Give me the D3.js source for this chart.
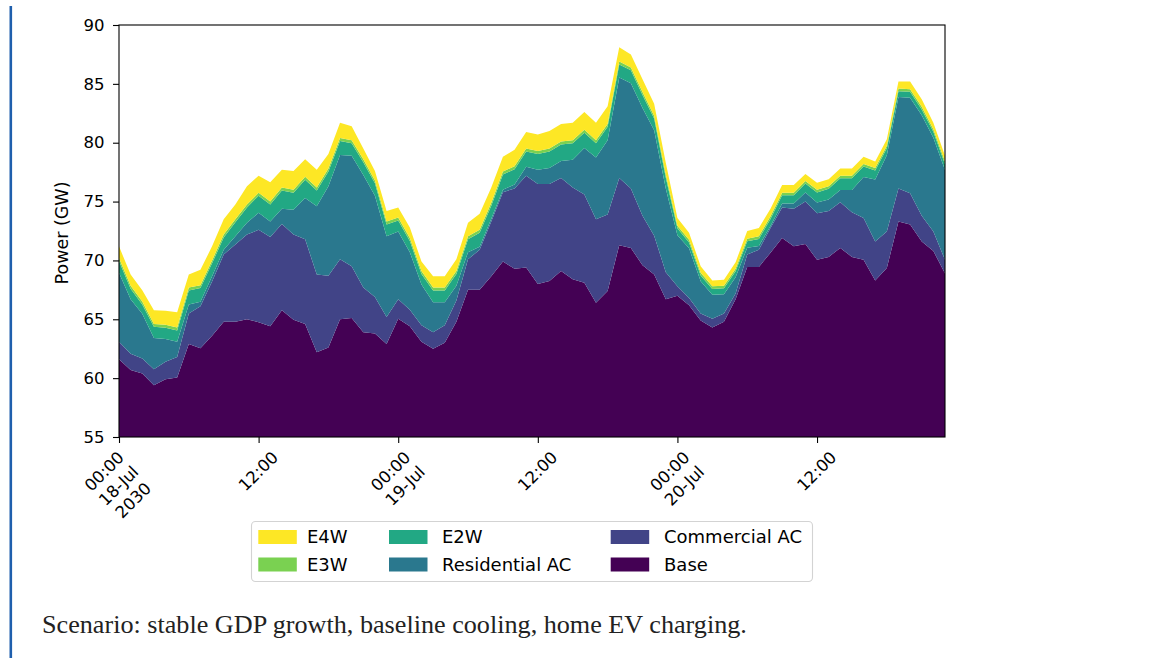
<!DOCTYPE html>
<html>
<head>
<meta charset="utf-8">
<script src="https://cdn.jsdelivr.net/npm/d3@7"></script>
<style>
html,body{margin:0;padding:0;background:#fff;overflow:hidden}
</style>
</head>
<body>
<svg id="chart" width="1156" height="658"></svg>
<script>
// ---------------- data ----------------
const startTime = Date.UTC(2030, 6, 18, 0, 0);   // 18-Jul-2030 00:00, hourly samples
const seriesNames = ["Base", "Commercial AC", "Residential AC", "E2W", "E3W", "E4W"];
const seriesColors = ["#440154", "#414487", "#2a788e", "#22a884", "#7ad151", "#fde725"];

const base = [61.6, 60.7, 60.4, 59.4, 59.9, 60.05, 62.9, 62.55, 63.6, 64.8, 64.8, 65.0, 64.75, 64.4, 65.76, 64.96, 64.6, 62.2, 62.6, 65.0, 65.1, 63.9, 63.8, 62.9,
  65.05, 64.4, 63.1, 62.5, 63.0, 64.8, 67.5, 67.5, 68.65, 69.9, 69.3, 69.4, 68.0, 68.25, 69.1, 68.4, 68.1, 66.4, 67.4, 71.3, 71.05, 69.6, 68.8, 66.7,
  67.0, 66.2, 64.9, 64.3, 64.8, 66.7, 69.45, 69.45, 70.65, 71.9, 71.2, 71.4, 70.05, 70.3, 71.05, 70.3, 70.05, 68.3, 69.35, 73.3, 73.05, 71.6, 70.8, 68.9];

const commercialAC = [1.5, 1.37, 1.27, 1.36, 1.5, 1.75, 2.6, 3.55, 4.6, 5.7, 6.55, 7.2, 7.85, 7.6, 7.34, 7.24, 7.2, 6.6, 6.1, 5.1, 4.4, 3.8, 3.1, 2.3,
  1.65, 1.4, 1.4, 1.4, 1.5, 1.8, 2.6, 3.4, 4.65, 5.9, 6.8, 7.8, 8.5, 8.25, 7.9, 7.8, 7.5, 7.1, 6.5, 5.7, 5.05, 4.2, 3.3, 2.3,
  0.8, 0.6, 0.6, 0.75, 0.7, 0.5, 1.05, 1.45, 2.1, 2.6, 3.2, 3.6, 3.95, 3.9, 3.9, 3.8, 3.55, 3.3, 3.1, 2.8, 2.65, 2.2, 1.65, 1.15];

const residentialAC = [5.85, 4.63, 3.79, 2.65, 1.93, 1.3, 0.75, 0.4, 0.45, 0.4, 0.7, 1.0, 1.45, 1.3, 1.3, 2.1, 3.5, 5.8, 7.6, 8.85, 9.4, 9.55, 8.6, 6.85,
  5.75, 4.9, 3.45, 2.55, 1.95, 1.25, 0.6, 0.26, 0.25, 0.2, 0.35, 0.75, 1.2, 1.35, 1.45, 2.35, 3.95, 5.25, 6.3, 8.55, 8.95, 9.15, 8.95, 7.1,
  4.33, 4.23, 2.73, 2.03, 1.63, 1.38, 0.58, 0.33, 0.18, 0.33, 0.43, 0.78, 0.93, 0.98, 1.03, 1.88, 3.48, 5.28, 6.48, 7.78, 8.13, 8.53, 7.98, 7.63];

const e2w = [1.0, 0.9, 0.8, 0.95, 0.95, 0.95, 1.2, 1.15, 1.1, 1.05, 1.2, 1.3, 1.45, 1.45, 1.55, 1.45, 1.55, 1.35, 1.25, 1.2, 1.05, 1.1, 1.05, 1.0,
  0.95, 0.95, 0.9, 1.0, 1.0, 1.0, 1.1, 1.2, 1.1, 1.3, 1.3, 1.3, 1.35, 1.4, 1.4, 1.4, 1.3, 1.2, 1.15, 1.1, 1.1, 1.1, 1.0, 0.95,
  0.6, 0.5, 0.5, 0.5, 0.5, 0.5, 0.55, 0.6, 0.6, 0.7, 0.7, 0.75, 0.85, 0.9, 1.0, 1.0, 0.9, 0.75, 0.6, 0.5, 0.5, 0.5, 0.5, 0.5];

const e3w = [0.25, 0.25, 0.25, 0.25, 0.25, 0.25, 0.25, 0.25, 0.25, 0.25, 0.25, 0.25, 0.25, 0.25, 0.25, 0.25, 0.25, 0.25, 0.25, 0.25, 0.25, 0.25, 0.25, 0.25,
  0.25, 0.25, 0.25, 0.25, 0.25, 0.25, 0.25, 0.25, 0.25, 0.25, 0.25, 0.25, 0.25, 0.25, 0.25, 0.25, 0.25, 0.25, 0.25, 0.25, 0.25, 0.25, 0.25, 0.25,
  0.22, 0.22, 0.22, 0.22, 0.22, 0.22, 0.22, 0.22, 0.22, 0.22, 0.22, 0.22, 0.22, 0.22, 0.22, 0.22, 0.22, 0.22, 0.22, 0.22, 0.22, 0.22, 0.22, 0.22];

const e4w = [1.0, 0.95, 0.95, 1.15, 1.2, 1.3, 1.1, 1.3, 1.2, 1.3, 1.25, 1.55, 1.45, 1.65, 1.5, 1.6, 1.5, 1.5, 1.25, 1.3, 1.2, 0.9, 0.8, 0.9,
  0.85, 0.9, 0.8, 0.95, 0.95, 1.0, 1.15, 1.35, 1.3, 1.25, 1.4, 1.4, 1.4, 1.5, 1.5, 1.5, 1.5, 1.5, 1.5, 1.2, 1.1, 1.1, 1.0, 1.0,
  0.65, 0.6, 0.55, 0.5, 0.5, 0.55, 0.65, 0.7, 0.65, 0.65, 0.65, 0.6, 0.6, 0.6, 0.6, 0.6, 0.6, 0.55, 0.55, 0.6, 0.65, 0.65, 0.55, 0.5];

const yTicks = [55, 60, 65, 70, 75, 80, 85, 90];
const xTickHours = [0, 12, 24, 36, 48, 60];
const xTickLabels = [["00:00", "18-Jul", "2030"], ["12:00"], ["00:00", "19-Jul"], ["12:00"], ["00:00", "20-Jul"], ["12:00"]];
const legendOrder = ["E4W", "E3W", "E2W", "Residential AC", "Commercial AC", "Base"];
const yLabel = "Power (GW)";
const caption = "Scenario: stable GDP growth, baseline cooling, home EV charging.";

// ---------------- build ----------------
const seriesValues = [base, commercialAC, residentialAC, e2w, e3w, e4w];
const timeAt = h => new Date(startTime + h * 3600e3);
const rows = base.map((_, i) => {
  const r = { t: timeAt(i) };
  seriesNames.forEach((n, k) => r[n] = seriesValues[k][i]);
  return r;
});

const svg = d3.select("#chart");
const L = 119, R = 945, T = 25, B = 437;
const FONT = "'DejaVu Sans', sans-serif";

// page accent bar
svg.append("rect").attr("x", 9.5).attr("y", 6).attr("width", 2.6).attr("height", 660).attr("fill", "#1f5fad");

const x = d3.scaleUtc().domain([rows[0].t, rows[rows.length - 1].t]).range([L, R]);
const y = d3.scaleLinear().domain([55, 90]).range([B, T]);

const stacked = d3.stack().keys(seriesNames)(rows);

svg.append("clipPath").attr("id", "plotclip")
  .append("rect").attr("x", L).attr("y", T).attr("width", R - L).attr("height", B - T);

const area = d3.area()
  .x(d => x(d.data.t))
  .y0(d => y(Math.max(d[0], 50)))
  .y1(d => y(d[1]));

svg.append("g").attr("clip-path", "url(#plotclip)")
  .selectAll("path").data(stacked).join("path")
  .attr("d", area)
  .attr("fill", (d, i) => seriesColors[i])
  .attr("stroke", "none");

// y axis
const yAxis = svg.append("g").attr("transform", `translate(${L},0)`)
  .call(d3.axisLeft(y).tickValues(yTicks).tickSize(6).tickPadding(8.5).tickFormat(d3.format("d")));
yAxis.select(".domain").remove();
yAxis.selectAll("line").attr("stroke", "#000").attr("stroke-width", 1.1);
yAxis.selectAll("text").attr("font-family", FONT).attr("font-size", 16.5).attr("fill", "#000");

// x axis ticks
const xAxis = svg.append("g").attr("transform", `translate(0,${B})`)
  .call(d3.axisBottom(x).tickValues(xTickHours.map(timeAt)).tickSize(6).tickFormat(""));
xAxis.select(".domain").remove();
xAxis.selectAll("line").attr("stroke", "#000").attr("stroke-width", 1.1);

// x tick labels (rotated 45°, centered, multi-line)
const fs = 16.5, lh = 20.5, asc = 15.5, topPad = B + 10.5;
const c45 = Math.SQRT1_2;
xTickHours.forEach((h, i) => {
  const lines = xTickLabels[i];
  const tx = x(timeAt(h));
  const g = svg.append("g");
  const t = g.append("text").attr("text-anchor", "middle")
    .attr("font-family", FONT).attr("font-size", fs).attr("fill", "#000");
  const spans = lines.map((ln, j) => t.append("tspan").attr("x", 0).attr("y", asc + j * lh).text(ln));
  const W = d3.max(spans, s => s.node().getComputedTextLength());
  const H = lines.length * lh;
  g.attr("transform", `translate(${tx - c45 * H / 2},${topPad + c45 * W / 2}) rotate(-45)`);
});

// frame
svg.append("rect").attr("x", L).attr("y", T).attr("width", R - L).attr("height", B - T)
  .attr("fill", "none").attr("stroke", "#000").attr("stroke-width", 1.1);

// y label
svg.append("text")
  .attr("transform", `translate(68,${(T + B) / 2 + 2}) rotate(-90)`)
  .attr("text-anchor", "middle")
  .attr("font-family", FONT).attr("font-size", 17.5).attr("fill", "#000")
  .text(yLabel);

// legend
const lg = svg.append("g");
lg.append("rect").attr("x", 251.5).attr("y", 521.5).attr("width", 561).attr("height", 60)
  .attr("rx", 4).attr("fill", "#fff").attr("stroke", "#d3d3d3").attr("stroke-width", 1.1);
const colPatchX = [258.3, 389, 610.7];
const colTextX = [307, 442, 664];
const rowY = [530, 557.5];
legendOrder.forEach((name, k) => {
  const col = Math.floor(k / 2), row = k % 2;
  const ci = seriesNames.indexOf(name);
  lg.append("rect").attr("x", colPatchX[col]).attr("y", rowY[row]).attr("width", 38.5).attr("height", 14)
    .attr("fill", seriesColors[ci]);
  lg.append("text").attr("x", colTextX[col]).attr("y", rowY[row] + 7).attr("dy", "0.36em")
    .attr("font-family", FONT).attr("font-size", 18).attr("fill", "#000").text(name);
});

// caption
const cap = svg.append("text").attr("x", 42).attr("y", 633)
  .attr("font-family", "'Liberation Serif', 'Times New Roman', serif")
  .attr("font-size", 26).attr("fill", "#222").text(caption);
const cw = cap.node().getComputedTextLength();
cap.attr("font-size", 26 * 705 / cw);
</script>
</body>
</html>
